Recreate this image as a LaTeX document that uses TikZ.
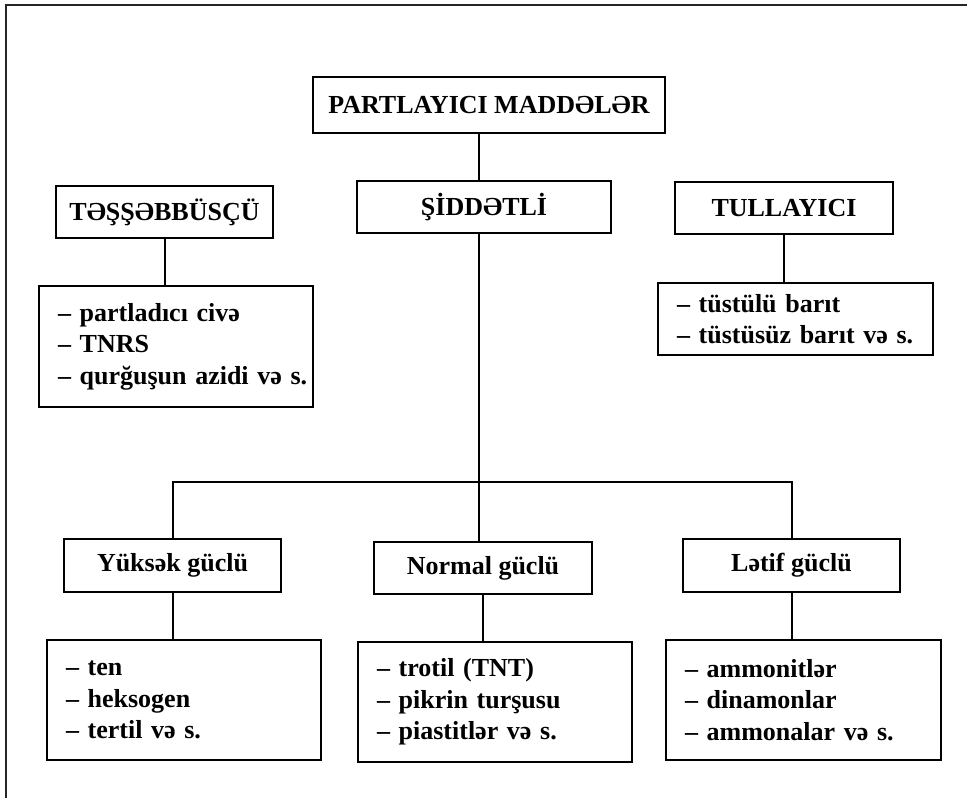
\documentclass[tikz,border=0pt]{standalone}
\usepackage{fontspec}
\setmainfont{Liberation Serif}
\begin{document}
\begin{tikzpicture}[x=1pt,y=-1pt,
  box/.style={draw, line width=2.4pt, rectangle, inner sep=0pt,
    font=\bfseries\fontsize{26}{31.5}\selectfont},
  headbox/.style n args={2}{box, minimum width=#1, minimum height=#2},
  listbox/.style n args={2}{box, align=left, inner xsep=0pt,
    text width=#1, minimum height=#2,
    execute at begin node={\leftskip=19pt\relax}},
  conn/.style={line width=2pt}]
\fill[white] (0,0) rectangle (967,798);
\useasboundingbox (0,0) rectangle (967,798);
\draw[line width=2pt, black!85] (6,810) -- (6,5) -- (980,5);

\node[headbox={352pt}{56pt}] (top) at (489,105) {PARTLAYICI MADDƏLƏR};
\node[headbox={217pt}{52pt}] (tash) at (164.5,212) {TƏŞŞƏBBÜSÇÜ};
\node[headbox={254pt}{52pt}] (sid) at (484,207) {ŞİDDƏTLİ};
\node[headbox={218pt}{52pt}] (tull) at (784,208) {TULLAYICI};

\node[listbox={274pt}{121pt}] (tashL) at (176,346.5)
  {– partladıcı civə\\– TNRS\\– qurğuşun azidi və s.};
\node[listbox={275pt}{72pt}] (tullL) at (795.5,319)
  {– tüstülü barıt\\– tüstüsüz barıt və s.};

\node[headbox={217pt}{53pt}] (yuk) at (172.5,565.5) {Yüksək güclü};
\node[headbox={218pt}{52pt}] (norm) at (483,568) {Normal güclü};
\node[headbox={217pt}{53pt}] (latif) at (791.5,565.5) {Lətif güclü};

\node[listbox={274pt}{120pt}] (yukL) at (184,700)
  {– ten\\– heksogen\\– tertil və s.};
\node[listbox={274pt}{120pt}] (normL) at (495,702)
  {– trotil (TNT)\\– pikrin turşusu\\– piastitlər və s.};
\node[listbox={275pt}{120pt}] (latL) at (803.5,700)
  {– ammonitlər\\– dinamonlar\\– ammonalar və s.};

\coordinate (sx) at (479,0);
\coordinate (bar) at (0,482);

\draw[conn] (top.south -| sx) -- (sid.north -| sx);
\draw[conn] (sid.south -| sx) -- (norm.north -| sx);
\draw[conn] (yuk.north) -- (yuk.north |- bar) -- (latif.north |- bar) -- (latif.north);
\draw[conn] (tash.south) -- (tash.south |- tashL.north);
\draw[conn] (tull.south) -- (tull.south |- tullL.north);
\draw[conn] (yuk.south) -- (yuk.south |- yukL.north);
\draw[conn] (norm.south) -- (norm.south |- normL.north);
\draw[conn] (latif.south) -- (latif.south |- latL.north);
\end{tikzpicture}
\end{document}
